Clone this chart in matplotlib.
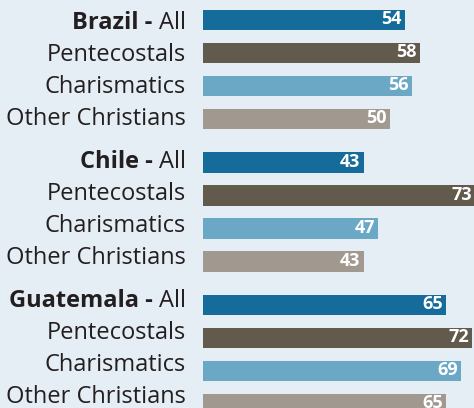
import matplotlib
matplotlib.use("Agg")
import matplotlib.pyplot as plt

# data
countries = ["Brazil", "Chile", "Guatemala"]
groups = ["All", "Pentecostals", "Charismatics", "Other Christians"]
brazil = [54, 58, 56, 50]
chile = [43, 73, 47, 43]
guatemala = [65, 72, 69, 65]

colors = ["#156b99", "#615a4d", "#6aa8c6", "#a19990"]
bg = "#e6eef5"
text_col = "#231f20"
font = "Open Sans"

fig = plt.figure(figsize=(4.74, 4.08), dpi=100, facecolor=bg)
ax = fig.add_axes([203 / 474, 0, 271 / 474, 1])
ax.set_facecolor(bg)

group_gap = 0.32
values = [brazil, chile, guatemala]
for g, (country, vals) in enumerate(zip(countries, values)):
    for i, (grp, v) in enumerate(zip(groups, vals)):
        y = g * (len(groups) + group_gap) + i
        ax.barh(y, v, height=0.61, color=colors[i], left=0)
        # value inside the end of the bar
        ax.annotate(str(v), xy=(v, y), xytext=(-3, -4), textcoords="offset pixels",
                    ha="right", va="baseline", color="white", fontsize=13,
                    fontweight="bold", family=font, annotation_clip=False)
        # category label left of the axes (labels run on a slightly tighter pitch)
        ly = y * 0.975 + 0.27
        lbl = ax.annotate(grp, xy=(0, ly), xycoords=("figure pixels", "data"),
                          xytext=(186, 0), textcoords=("figure pixels", "offset pixels"),
                          ha="right", va="baseline", fontsize=17, color=text_col,
                          family=font, annotation_clip=False)
        if i == 0:
            ax.annotate(country + " - ", xy=(0, 0), xycoords=lbl,
                        ha="right", va="bottom", fontsize=17, color=text_col,
                        family=font, fontweight="bold", annotation_clip=False)

ax.set_xlim(0, 72.6)
ax.set_ylim(11.76, -0.606)
ax.axis("off")

fig.savefig("out.png", dpi=100, facecolor=bg)
